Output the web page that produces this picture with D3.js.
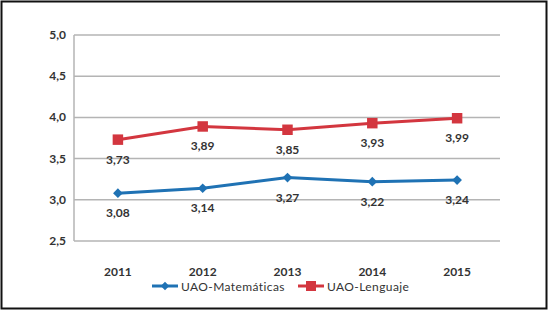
<!DOCTYPE html>
<html>
<head>
<meta charset="utf-8">
<script src="https://cdn.jsdelivr.net/npm/d3@7"></script>
<style>
  body { margin: 0; background: #fff; }
  svg { display: block; font-family: Lato, 'Open Sans', sans-serif; }
</style>
</head>
<body>
<script>
(function () {
  'use strict'

  // Data
  var years = ['2011', '2012', '2013', '2014', '2015']
  var matematicas = [3.08, 3.14, 3.27, 3.22, 3.24]
  var lenguaje = [3.73, 3.89, 3.85, 3.93, 3.99]
  var yTicks = [2.5, 3.0, 3.5, 4.0, 4.5, 5.0]
  var seriesNames = ['UAO-Matemáticas', 'UAO-Lenguaje']

  var w = 548
  var h = 310
  var blue = '#1f72b4'
  var red = '#d3363f'

  var fmt = function (v) { return d3.format('.2f')(v).replace('.', ',') }

  var svg = d3.select('body').append('svg')
    .attr('width', w)
    .attr('height', h)

  // Outer frame
  svg.append('rect')
    .attr('x', 1.5).attr('y', 1.5)
    .attr('width', w - 3).attr('height', h - 3)
    .attr('fill', '#fff')
    .attr('stroke', '#111')
    .attr('stroke-width', 2)

  var x = d3.scaleBand().domain(years).range([75.5, 499.5])
  var y = d3.scaleLinear().domain([2.5, 5.0]).range([241, 35])

  // Grid
  svg.append('g')
    .selectAll('line')
    .data(yTicks)
    .enter().append('line')
      .attr('x1', 74).attr('x2', 500)
      .attr('y1', function (d) { return y(d) })
      .attr('y2', function (d) { return y(d) })
      .attr('stroke', '#b4b4b4')
      .attr('stroke-width', 1.5)

  svg.append('line')
    .attr('x1', 74).attr('x2', 74)
    .attr('y1', y(5.0)).attr('y2', y(2.5))
    .attr('stroke', '#b4b4b4')
    .attr('stroke-width', 1.5)

  // Y labels
  svg.append('g')
    .selectAll('text')
    .data(yTicks)
    .enter().append('text')
      .attr('x', 66)
      .attr('y', function (d) { return y(d) + 4 })
      .attr('text-anchor', 'end')
      .attr('font-size', 12)
      .attr('font-weight', 'bold')
      .attr('fill', '#333')
      .text(function (d) { return d3.format('.1f')(d).replace('.', ',') })

  // X labels
  svg.append('g')
    .selectAll('text')
    .data(years)
    .enter().append('text')
      .attr('x', function (d) { return x(d) + x.bandwidth() / 2 })
      .attr('y', 276)
      .attr('text-anchor', 'middle')
      .attr('font-size', 12)
      .attr('font-weight', 'bold')
      .attr('fill', '#333')
      .text(function (d) { return d })

  var cx = function (d, i) { return x(years[i]) + x.bandwidth() / 2 }
  var line = d3.line().x(cx).y(function (d) { return y(d) })

  function drawSeries (values, color, symbolType, size) {
    svg.append('path')
      .datum(values)
      .attr('d', line)
      .attr('fill', 'none')
      .attr('stroke', color)
      .attr('stroke-width', 3)

    svg.append('g')
      .selectAll('path')
      .data(values)
      .enter().append('path')
        .attr('d', d3.symbol().type(symbolType).size(size))
        .attr('transform', function (d, i) { return 'translate(' + cx(d, i) + ',' + y(d) + ')' })
        .attr('fill', color)

    svg.append('g')
      .selectAll('text')
      .data(values)
      .enter().append('text')
        .attr('x', cx)
        .attr('y', function (d) { return y(d) + 24 })
        .attr('text-anchor', 'middle')
        .attr('font-size', 12)
        .attr('font-weight', 'bold')
        .attr('fill', '#333')
        .text(fmt)
  }

  drawSeries(matematicas, blue, d3.symbolDiamond2, 60)
  drawSeries(lenguaje, red, d3.symbolSquare, 110)

  // Legend
  var legend = [
    { name: seriesNames[0], color: blue, type: d3.symbolDiamond2, size: 45, x: 152 },
    { name: seriesNames[1], color: red, type: d3.symbolSquare, size: 100, x: 298 }
  ]
  var lg = svg.append('g').selectAll('g')
    .data(legend)
    .enter().append('g')
      .attr('transform', function (d) { return 'translate(' + d.x + ',286)' })
  lg.append('line')
    .attr('x1', 0).attr('x2', 26)
    .attr('stroke', function (d) { return d.color })
    .attr('stroke-width', 3)
  lg.append('path')
    .attr('d', function (d) { return d3.symbol().type(d.type).size(d.size)() })
    .attr('transform', 'translate(13,0)')
    .attr('fill', function (d) { return d.color })
  lg.append('text')
    .attr('x', 29).attr('y', 4.5)
    .attr('font-size', 12)
    .attr('letter-spacing', 0.4)
    .attr('fill', '#333')
    .text(function (d) { return d.name })
}())
</script>
</body>
</html>
